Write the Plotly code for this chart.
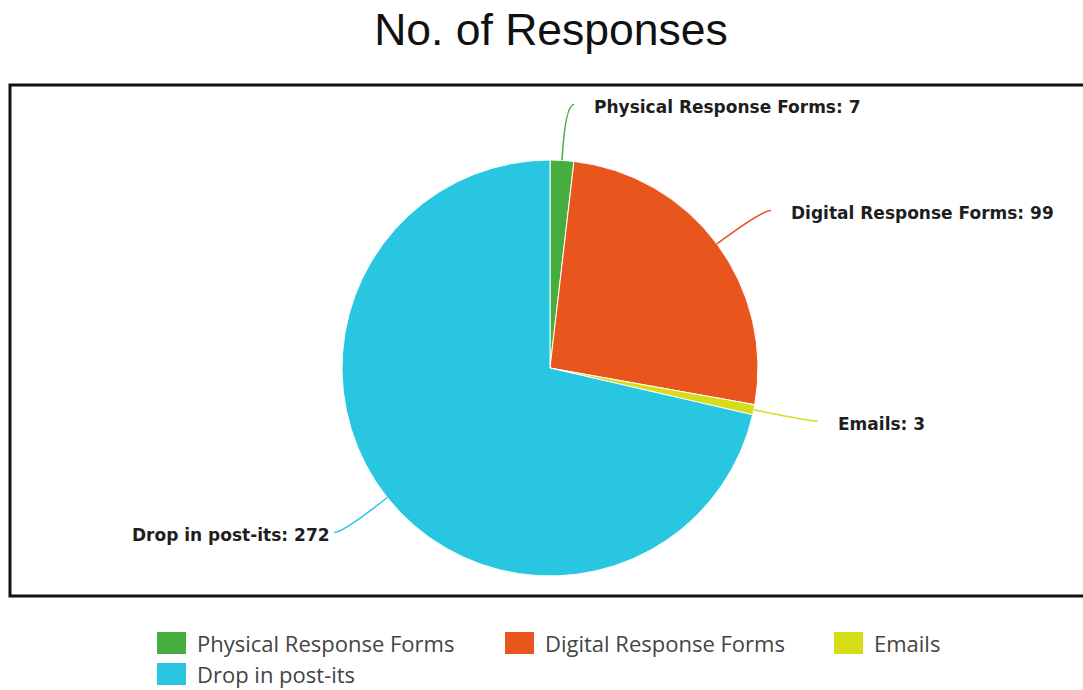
import math
import plotly.graph_objects as go

# Response counts by channel
categories = ["Physical Response Forms", "Digital Response Forms", "Emails", "Drop in post-its"]
responses = [7, 99, 3, 272]
slice_colors = ["#46ad3f", "#e9561d", "#d6dc17", "#29c6e2"]
chart_title = "No. of Responses"

W, H = 1083, 690
CX, CY, R = 550, 368, 208          # pie centre and radius in pixels


def px(x):
    return x / W


def py(y):
    return 1 - y / H


fig = go.Figure()

fig.add_trace(go.Pie(
    labels=categories,
    values=responses,
    marker=dict(colors=slice_colors, line=dict(color="white", width=1)),
    sort=False,
    direction="clockwise",
    rotation=0,
    textinfo="none",
    hoverinfo="label+value",
    showlegend=False,
    domain=dict(x=[px(CX - R), px(CX + R)], y=[py(CY + R), py(CY - R)]),
))

shapes = []
annotations = []

# Outer frame around the chart area
shapes.append(dict(type="rect", xref="paper", yref="paper",
                   x0=px(10), x1=px(1092), y0=py(596), y1=py(85),
                   line=dict(color="#111111", width=3), layer="below"))

# Leader lines and value labels, placed at each slice's mid-angle
total = sum(responses)
start = 0.0
for name, val, col in zip(categories, responses, slice_colors):
    sweep = val / total * 360.0
    mid = math.radians(start + sweep / 2)
    start += sweep
    sx, sy = CX + R * math.sin(mid), CY - R * math.cos(mid)
    ex, ey = CX + 1.27 * R * math.sin(mid), CY - 1.27 * R * math.cos(mid)
    side = 1 if math.sin(mid) >= 0 else -1
    tx = ex + 9 * side
    path = (f"M {px(sx)},{py(sy)} Q {px(ex)},{py(ey)} {px(tx)},{py(ey)}")
    shapes.append(dict(type="path", xref="paper", yref="paper", path=path,
                       line=dict(color=col, width=1.5)))
    lx = tx + 18 if side > 0 else tx - 2
    annotations.append(dict(
        x=px(lx), y=py(ey + 3), xref="paper", yref="paper",
        text=f"{name}: {val}", showarrow=False,
        xanchor="left" if side > 0 else "right", yanchor="middle",
        font=dict(family="DejaVu Sans", size=17, color="#1e1e1e", weight=700),
    ))

# Legend built from the category list
legend_slots = [(157, 643), (505, 643), (834, 643), (157, 674)]
for (lx, ly), name, col in zip(legend_slots, categories, slice_colors):
    shapes.append(dict(type="rect", xref="paper", yref="paper",
                       x0=px(lx), x1=px(lx + 29), y0=py(ly + 11), y1=py(ly - 11),
                       fillcolor=col, line=dict(width=0)))
    annotations.append(dict(
        x=px(lx + 38), y=py(ly), xref="paper", yref="paper",
        text=name, showarrow=False, xanchor="left", yanchor="middle",
        font=dict(family="Open Sans", size=22, color="#444444"),
    ))

fig.update_layout(
    width=W, height=H,
    margin=dict(l=0, r=0, t=0, b=0),
    paper_bgcolor="white",
    plot_bgcolor="white",
    title=dict(text=chart_title, x=px(551), y=py(29), xanchor="center", yanchor="middle",
               font=dict(family="Liberation Sans", size=44.5, color="#111111")),
    shapes=shapes,
    annotations=annotations,
    showlegend=False,
)

fig.write_html("out.html")
